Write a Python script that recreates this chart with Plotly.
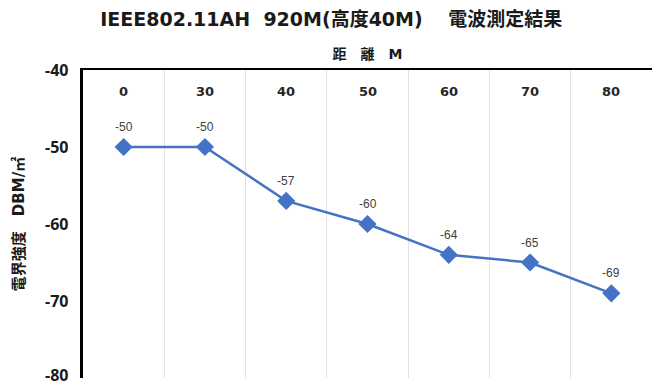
import plotly.graph_objects as go

categories = ["0", "30", "40", "50", "60", "70", "80"]
values = [-50, -50, -57, -60, -64, -65, -69]
y_ticks = [-40, -50, -60, -70, -80]

idx = list(range(len(categories)))
bounds = [i + 0.5 for i in range(-1, len(categories))]

WIDE = "DejaVu Sans, Noto Sans CJK JP, sans-serif"
OPEN = "Open Sans, Noto Sans CJK JP, sans-serif"

fig = go.Figure()
fig.add_trace(go.Scatter(
    x=idx, y=values,
    mode="lines+markers",
    line=dict(color="#4472C4", width=2.5),
    marker=dict(symbol="diamond", size=14, color="#4472C4"),
    cliponaxis=False,
    hoverinfo="skip",
))
for i, v in zip(idx, values):
    fig.add_annotation(
        x=i, y=v, text=str(v), showarrow=False, yshift=20,
        font=dict(family="Liberation Sans, Arial, sans-serif", size=12, color="#404040"),
    )
# category labels drawn just inside the top axis line
for i, c in zip(idx, categories):
    fig.add_annotation(
        x=i, xref="x", y=1, yref="paper", yanchor="top", yshift=-12,
        text="<b>%s</b>" % c, showarrow=False,
        font=dict(family=WIDE, size=13, color="#262626"),
    )
# value-axis labels (lowest one nudged up so it stays inside the page)
for v in y_ticks:
    fig.add_annotation(
        x=0, xref="paper", xanchor="right", xshift=-14,
        y=v, yref="y", yanchor="middle", yshift=(3 if v == min(y_ticks) else 0),
        text="<b>%d</b>" % v, showarrow=False, borderpad=0,
        font=dict(family=OPEN, size=16, color="#1a1a1a"),
    )

fig.update_layout(
    width=656, height=386,
    margin=dict(l=83, r=4, t=70, b=8),
    paper_bgcolor="white", plot_bgcolor="white",
    showlegend=False,
    font=dict(family=OPEN, color="#000000"),
    title=dict(
        text="<b>IEEE802.11AH  920M(高度40M)\u3000 電波測定結果</b>",
        x=0.505, xanchor="center", y=0.95, yanchor="middle",
        font=dict(family=WIDE, size=19, color="#1a1a1a"),
    ),
)

fig.update_xaxes(
    range=[-0.5, len(categories) - 0.5],
    side="top",
    tickmode="array", tickvals=idx,
    showticklabels=False,
    ticks="",
    showgrid=False,
    minor=dict(tickmode="array", tickvals=bounds, showgrid=True, gridcolor="#e3e3e3", gridwidth=1, ticks=""),
    showline=True, linecolor="#000000", linewidth=2,
    zeroline=False,
    title=dict(text="<b>距\u3000離\u3000M</b>", font=dict(family=WIDE, size=14, color="#1a1a1a"), standoff=5),
)

fig.update_yaxes(
    range=[-80, -40],
    showticklabels=False,
    ticks="",
    showgrid=False, zeroline=False,
    showline=True, linecolor="#000000", linewidth=2.5,
    title=dict(text="<b>電界強度\u3000DBM/㎡</b>", font=dict(family=WIDE, size=15, color="#1a1a1a"), standoff=53),
)

fig.write_html("out.html")
